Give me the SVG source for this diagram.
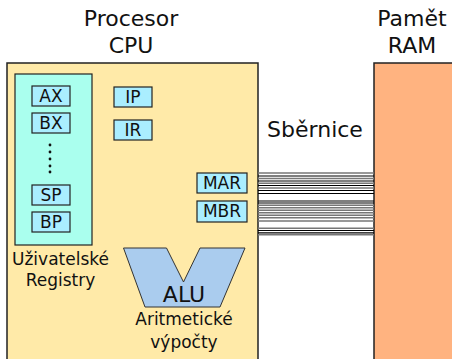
<svg xmlns="http://www.w3.org/2000/svg" width="452" height="359" viewBox="0 0 452 359">
<style>
text{font-family:"DejaVu Sans","Liberation Sans",sans-serif;fill:#111;text-anchor:middle}
.big{font-size:22px}
.alu{font-size:22px}
.mid{font-size:17px}
.reg{fill:#aaeeff;stroke:#222;stroke-width:1.2}
.rt{font-size:17px}
.bk{stroke:#000;stroke-width:1.2}
.gr{stroke:#777;stroke-width:1.4}
</style>
<rect width="452" height="359" fill="#fff"/>
<g id="cpu">
<rect x="7" y="63" width="251" height="310" fill="#ffeaa8" stroke="#222" stroke-width="1.5"/>
<text class="big" x="131" y="26">Procesor</text>
<text class="big" x="131" y="53">CPU</text>
</g>
<g id="ram">
<rect x="374" y="63" width="90" height="310" fill="#ffb380" stroke="#222" stroke-width="1.5"/>
<text class="big" x="412" y="26">Pamět</text>
<text class="big" x="412" y="53">RAM</text>
</g>
<g id="registry">
<rect x="15" y="74" width="77" height="171" fill="#aaffee" stroke="#222" stroke-width="1.2"/>
<text class="mid" x="60.5" y="265">Uživatelské</text>
<text class="mid" x="60.5" y="286">Registry</text>
</g>
<g id="ax"><rect class="reg" x="32" y="86" width="38" height="20"/><text class="rt" x="51" y="102">AX</text></g>
<g id="bx"><rect class="reg" x="32" y="113" width="38" height="20"/><text class="rt" x="51" y="129">BX</text></g>
<g id="dots" fill="#111">
<circle cx="50" cy="145" r="1.4"/><circle cx="50" cy="152" r="1.4"/><circle cx="50" cy="159" r="1.4"/><circle cx="50" cy="166" r="1.4"/><circle cx="50" cy="172" r="1.4"/>
</g>
<g id="sp"><rect class="reg" x="32" y="185" width="38" height="20"/><text class="rt" x="51" y="201">SP</text></g>
<g id="bp"><rect class="reg" x="32" y="212" width="38" height="20"/><text class="rt" x="51" y="228">BP</text></g>
<g id="ip"><rect class="reg" x="114" y="87" width="38" height="20"/><text class="rt" x="133" y="103">IP</text></g>
<g id="ir"><rect class="reg" x="114" y="120" width="38" height="20"/><text class="rt" x="133" y="136">IR</text></g>
<g id="mar"><rect class="reg" x="197" y="173" width="50" height="20"/><text class="rt" x="222" y="189">MAR</text></g>
<g id="mbr"><rect class="reg" x="197" y="201" width="50" height="21"/><text class="rt" x="222" y="217">MBR</text></g>
<g id="alu">
<polygon points="123.5,248 166.5,248 183.5,282 200,248 245,248 220,307 145,307" fill="#aaccee" stroke="#333" stroke-width="1"/>
<text class="alu" x="184" y="302">ALU</text>
<text class="mid" x="184" y="325">Aritmetické</text>
<text class="mid" x="184" y="348">výpočty</text>
</g>
<g id="bus">
<text class="big" x="315" y="137">Sběrnice</text>
<g id="connectors">
<line class="gr" x1="258" y1="173" x2="374" y2="173"/>
<line class="bk" x1="258" y1="176" x2="374" y2="176"/>
<line class="gr" x1="258" y1="178.5" x2="374" y2="178.5"/>
<line class="bk" x1="258" y1="181" x2="374" y2="181"/>
<line class="gr" x1="258" y1="183.3" x2="374" y2="183.3"/>
<line class="bk" x1="258" y1="185.5" x2="374" y2="185.5"/>
<line class="gr" x1="258" y1="188" x2="374" y2="188"/>
<line class="bk" x1="258" y1="190.5" x2="374" y2="190.5"/>
<line class="bk" x1="258" y1="193.5" x2="374" y2="193.5"/>
<line class="bk" x1="258" y1="201" x2="374" y2="201"/>
<line class="bk" x1="258" y1="203" x2="374" y2="203"/>
<line class="gr" x1="258" y1="205.3" x2="374" y2="205.3"/>
<line class="gr" x1="258" y1="207.8" x2="374" y2="207.8"/>
<line class="gr" x1="258" y1="210.3" x2="374" y2="210.3"/>
<line class="gr" x1="258" y1="212.8" x2="374" y2="212.8"/>
<line class="gr" x1="258" y1="215.3" x2="374" y2="215.3"/>
<line class="gr" x1="258" y1="217.8" x2="374" y2="217.8"/>
<line class="gr" x1="258" y1="221" x2="374" y2="221"/>
<line class="gr" x1="258" y1="228.3" x2="374" y2="228.3"/>
<line class="bk" x1="258" y1="230.5" x2="374" y2="230.5"/>
<line class="bk" x1="258" y1="232.8" x2="374" y2="232.8"/>
<line class="gr" x1="258" y1="234.8" x2="374" y2="234.8"/>
</g>
</g>
</svg>
